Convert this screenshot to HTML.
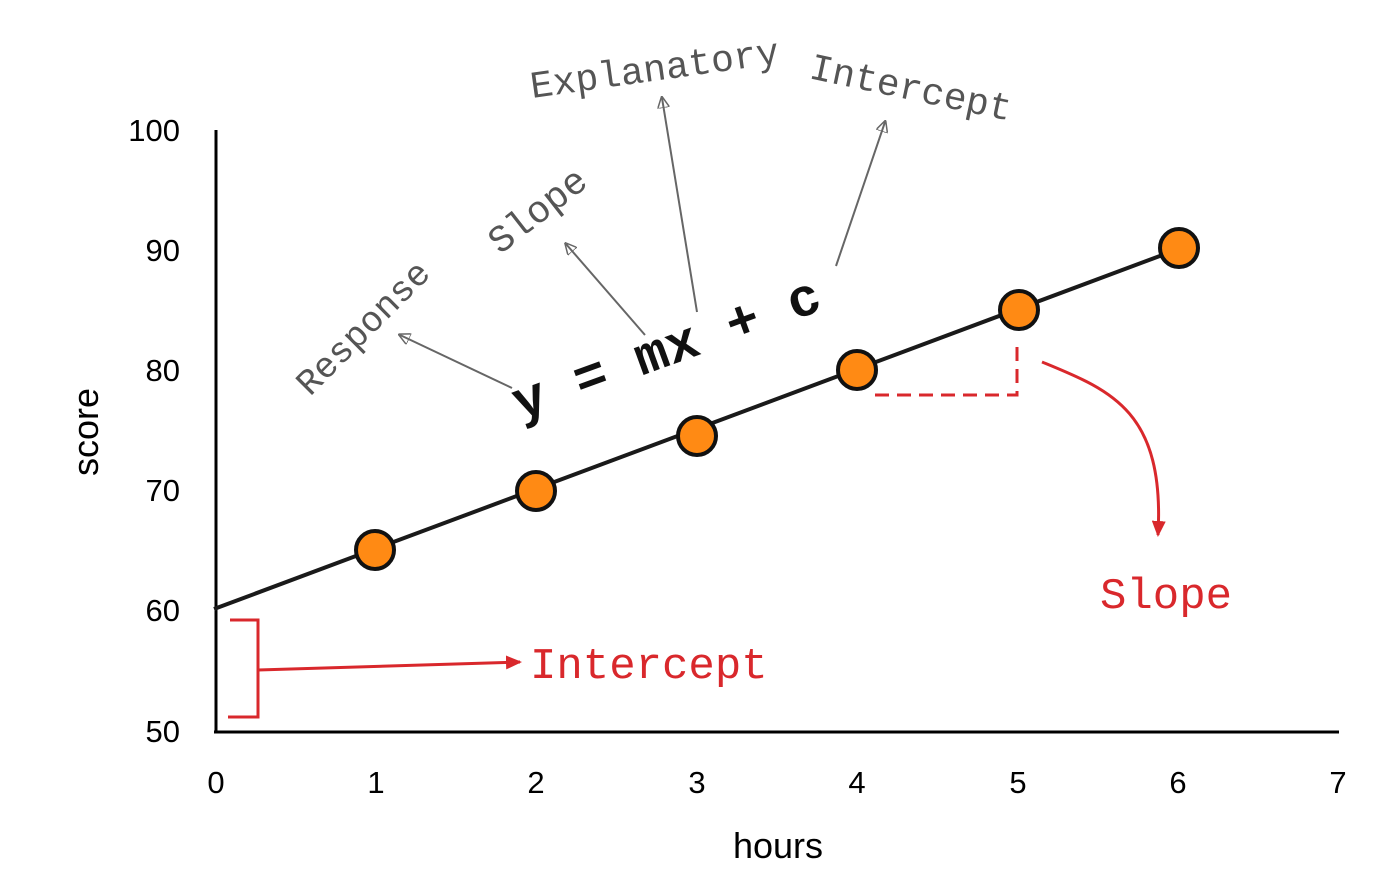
<!DOCTYPE html>
<html><head><meta charset="utf-8"><style>
html,body{margin:0;padding:0;background:#fff;}
</style></head><body>
<svg width="1400" height="890" viewBox="0 0 1400 890" xmlns="http://www.w3.org/2000/svg">
<defs>
<marker id="ga" markerWidth="12" markerHeight="12" refX="10" refY="6" orient="auto" markerUnits="userSpaceOnUse">
<path d="M0,0 L12,6 L0,12 Z" fill="none" stroke="#666" stroke-width="1.5"/></marker>
<marker id="ra" markerWidth="16" markerHeight="14" refX="14" refY="7" orient="auto" markerUnits="userSpaceOnUse">
<path d="M0,0 L16,7 L0,14 Z" fill="#d9282c"/></marker>
</defs>
<g font-family="Liberation Sans, sans-serif" font-size="31" fill="#000">
<text x="180" y="141" text-anchor="end">100</text>
<text x="180" y="261" text-anchor="end">90</text>
<text x="180" y="381" text-anchor="end">80</text>
<text x="180" y="501" text-anchor="end">70</text>
<text x="180" y="621" text-anchor="end">60</text>
<text x="180" y="742" text-anchor="end">50</text>
<text x="216" y="793" text-anchor="middle">0</text>
<text x="376" y="793" text-anchor="middle">1</text>
<text x="536" y="793" text-anchor="middle">2</text>
<text x="697" y="793" text-anchor="middle">3</text>
<text x="857" y="793" text-anchor="middle">4</text>
<text x="1018" y="793" text-anchor="middle">5</text>
<text x="1178" y="793" text-anchor="middle">6</text>
<text x="1338" y="793" text-anchor="middle">7</text>
<text x="778" y="858" text-anchor="middle" font-size="36">hours</text>
<text x="98" y="432" text-anchor="middle" font-size="36" transform="rotate(-90 98 432)">score</text>
</g>
<line x1="216" y1="130" x2="216" y2="733" stroke="#000" stroke-width="3"/>
<line x1="214" y1="732" x2="1339" y2="732" stroke="#000" stroke-width="3"/>
<line x1="214" y1="609" x2="1192" y2="244" stroke="#1a1a1a" stroke-width="4"/>
<g fill="#ff8a14" stroke="#111" stroke-width="4">
<circle cx="375" cy="550" r="19"/><circle cx="536" cy="491" r="19"/>
<circle cx="697" cy="436" r="19"/><circle cx="857" cy="370" r="19"/>
<circle cx="1019" cy="310" r="19"/><circle cx="1179" cy="248" r="19"/>
</g>
<g stroke="#d9282c" stroke-width="3" fill="none">
<path d="M230,620 L258,620 L258,717 L228,717"/>
<path d="M258,670 L520,662" marker-end="url(#ra)"/>
<path d="M875,395 L1017,395 L1017,345" stroke-dasharray="14,8"/>
<path d="M1042,362 C1110,390 1165,410 1158,535" marker-end="url(#ra)"/>
</g>
<g font-family="Liberation Mono, monospace" fill="#d9282c" font-size="44">
<text x="530" y="678">Intercept</text>
<text x="1100" y="608">Slope</text>
</g>
<g stroke="#666" stroke-width="2" fill="none">
<path d="M512,388 L400,335" marker-end="url(#ga)"/>
<path d="M645,335 L566,244" marker-end="url(#ga)"/>
<path d="M697,312 L662,98" marker-end="url(#ga)"/>
<path d="M836,266 L885,122" marker-end="url(#ga)"/>
</g>
<g font-family="Liberation Mono, monospace" fill="#555" font-size="38">
<text x="310" y="397" font-size="36" transform="rotate(-45 310 397)">Response</text>
<text x="500" y="255" transform="rotate(-38 500 255)">Slope</text>
<text x="532" y="98" transform="rotate(-8 532 98)">Explanatory</text>
<text x="808" y="78" transform="rotate(12 808 78)">Intercept</text>
</g>
<g font-family="Liberation Mono, monospace" fill="#111" font-size="54" font-weight="bold">
<text x="520" y="420" transform="rotate(-20 520 420)">y = mx + c</text>
</g>
</svg>
</body></html>
